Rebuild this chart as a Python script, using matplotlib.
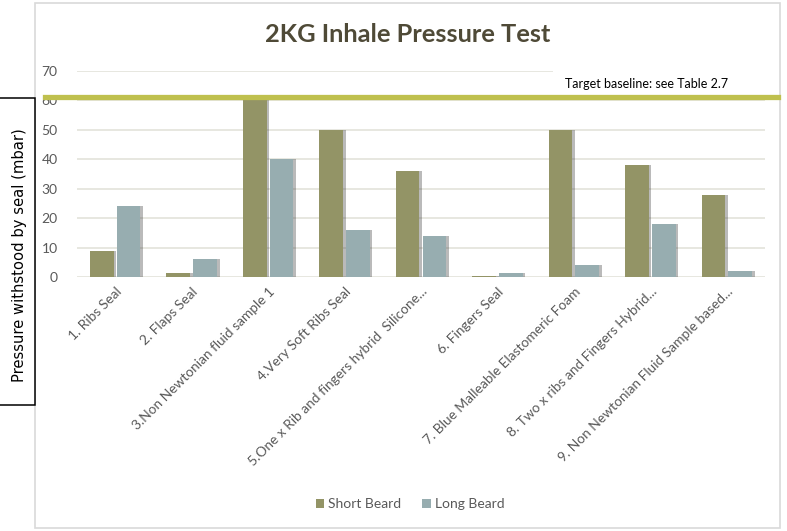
import matplotlib.pyplot as plt
import numpy as np
from matplotlib.patches import Rectangle
from matplotlib.lines import Line2D

plt.rcParams["font.family"] = ["Lato", "DejaVu Sans"]

# data
categories = [
    "1. Ribs Seal",
    "2. Flaps Seal",
    "3.Non Newtonian fluid sample 1",
    "4.Very Soft Ribs Seal",
    "5.One x Rib and fingers hybrid  Silicone...",
    "6. Fingers Seal",
    "7. Blue Malleable Elastomeric Foam",
    "8. Two x ribs and Fingers Hybrid...",
    "9. Non Newtonian Fluid Sample based...",
]
short_beard = [9, 1.5, 60, 50, 36, 0.5, 50, 38, 28]
long_beard = [24, 6, 40, 16, 14, 1.5, 4, 18, 2]
y_ticks = [0, 10, 20, 30, 40, 50, 60, 70]

short_col = "#939466"
long_col = "#97adb0"
text_col = "#595959"

fig = plt.figure(figsize=(7.87, 5.31), dpi=100)
ax = fig.add_axes([77 / 787, 1 - 277 / 531, 688 / 787, 206 / 531])

x = np.arange(len(categories))
w = 0.31
off = 0.175

# shadows
ax.bar(x - off + 0.035, short_beard, w, color="#3a3a3a", alpha=0.35, zorder=2)
ax.bar(x + off + 0.035, long_beard, w, color="#3a3a3a", alpha=0.35, zorder=2)
ax.bar(x - off, short_beard, w, color=short_col, label="Short Beard", zorder=3)
ax.bar(x + off, long_beard, w, color=long_col, label="Long Beard", zorder=3)

ax.set_xlim(-0.5, len(categories) - 0.5)
ax.set_ylim(0, 70)
ax.set_yticks(y_ticks)
ax.set_yticklabels([str(t) for t in y_ticks], fontsize=10, color=text_col)
ax.set_xticks(x)
ax.set_xticklabels(categories, rotation=45, ha="right", rotation_mode="anchor",
                   fontsize=9.9, color=text_col)
ax.tick_params(axis="both", length=0, pad=6)
ax.tick_params(axis="y", pad=14)
ax.grid(axis="y", color="#e3e3da", linewidth=1.2, zorder=0)
ax.set_axisbelow(True)
for s in ax.spines.values():
    s.set_visible(False)

# outer chart frame
fig.patches.append(Rectangle((35 / 787, 1 - 528 / 531), 745 / 787, 525 / 531,
                             transform=fig.transFigure, fill=False,
                             edgecolor="#d9d9d9", linewidth=1.2))

fig.text(408 / 787, 1 - 35 / 531, "2KG Inhale Pressure Test", ha="center",
         va="center", fontsize=18.3, fontweight="bold", color="#4f4a37")

# box hiding part of top gridline + target text
fig.patches.append(Rectangle((553 / 787, 1 - 94 / 531), 222 / 787, 30 / 531,
                             transform=fig.transFigure, facecolor="white",
                             edgecolor="none", zorder=2))
fig.text(565 / 787, 1 - 84 / 531, "Target baseline: see Table 2.7", ha="left",
         va="center", fontsize=9, color="black", zorder=3)
fig.lines.append(Line2D([45 / 787, 778 / 787], [1 - 97 / 531, 1 - 97 / 531],
                        transform=fig.transFigure, color="#bfc04e",
                        linewidth=3.8, zorder=4))

# y label in its own box
fig.patches.append(Rectangle((-2 / 787, 1 - 405 / 531), 37 / 787, 307 / 531,
                             transform=fig.transFigure, facecolor="white",
                             edgecolor="black", linewidth=1.1, zorder=5))
fig.text(20 / 787, 1 - 255 / 531, "Pressure withstood by seal (mbar)",
         rotation=90, ha="center", va="center", fontsize=10.6,
         family="DejaVu Sans", color="black", zorder=6)

leg = fig.legend(loc="center", bbox_to_anchor=(410 / 787, 1 - 504 / 531), ncol=2,
                 frameon=False, fontsize=10, handlelength=0.6, handleheight=0.6,
                 handletextpad=0.3, columnspacing=1.5)
for t in leg.get_texts():
    t.set_color(text_col)

fig.savefig("out.png", dpi=100)
